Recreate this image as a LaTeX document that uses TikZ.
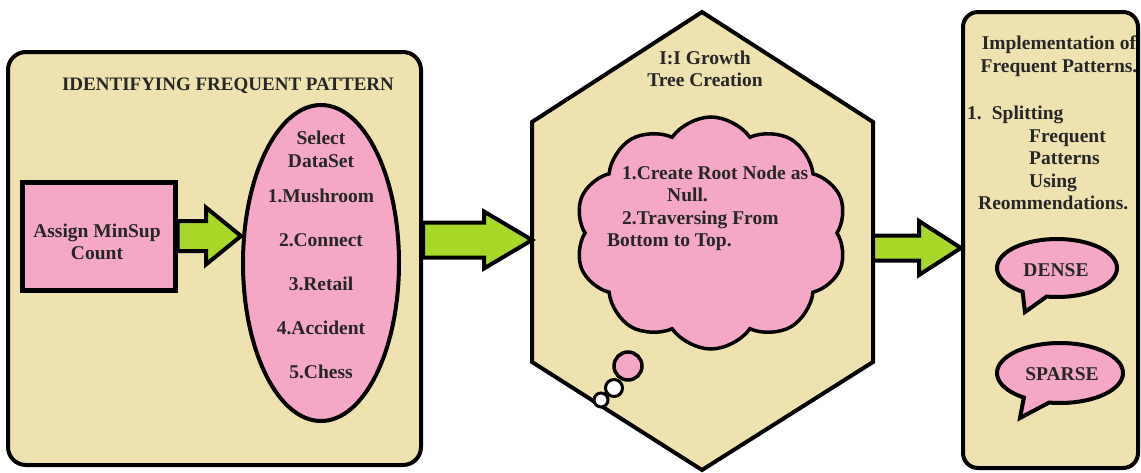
\documentclass[tikz,border=0pt]{standalone}
\usepackage{fontspec}
\setmainfont{Liberation Serif}
\usetikzlibrary{shapes.geometric,shapes.symbols,calc}
\definecolor{tanf}{RGB}{238,226,176}
\definecolor{pinkf}{RGB}{245,168,198}
\definecolor{limef}{RGB}{168,216,40}
\begin{document}
\begin{tikzpicture}[x=1pt,y=-1pt,
  txt/.style={font=\bfseries\fontsize{19.5}{22.5}\selectfont, text=black!85, inner sep=0pt},
  panel/.style={draw, line width=4pt, fill=tanf, rounded corners=18pt},
  blockarrow/.style n args={3}{draw, line width=4pt, fill=limef, line join=miter,
    to path={let \p1=(\tikztostart), \p2=(\tikztotarget) in
      (\x1,\y1+#1pt) -- (\x2-#3pt,\y1+#1pt) -- (\x2-#3pt,\y1+#2pt) -- (\x2,\y1)
      -- (\x2-#3pt,\y1-#2pt) -- (\x2-#3pt,\y1-#1pt) -- (\x1,\y1-#1pt) -- cycle}},
]
\useasboundingbox (0,0) rectangle (1141,472);
% ---------- left panel
\node[panel, minimum width=413pt, minimum height=413pt] (left) at (214.5,258.5) {};
\node[txt, font=\bfseries\fontsize{19}{22}\selectfont] (ttl) at (228,86) {IDENTIFYING FREQUENT PATTERN};
\node[draw, line width=5pt, fill=pinkf, minimum width=153pt, minimum height=108pt] (assign) at (98.5,236) {};
\node[txt, align=center] (assigntxt) at (97,242) {Assign MinSup\\Count};
\node[draw, ellipse, line width=4pt, fill=pinkf, minimum width=156pt, minimum height=316pt, inner sep=0pt] (sel) at (321,263) {};
\node[txt, align=center] (seltxt) at (321,255) {Select\\DataSet\\[12.5pt]1.Mushroom\\[21.5pt]2.Connect\\[21.5pt]3.Retail\\[21.5pt]4.Accident\\[21.5pt]5.Chess};
% ---------- hexagon
\coordinate (hT) at (702,12);
\coordinate (hUR) at (873,122);
\coordinate (hLR) at (873,362);
\coordinate (hB) at (702,470);
\coordinate (hLL) at (532,362);
\coordinate (hUL) at (532,122);
\coordinate (hW) at (532,240);
\coordinate (hE) at (873,248);
\draw[line width=4pt, fill=tanf, line join=miter] (hT) -- (hUR) -- (hLR) -- (hB) -- (hLL) -- (hUL) -- cycle;
\node[txt, align=center] (hexttl) at (705,69) {I:I Growth\\Tree Creation};
\node[cloud, cloud ignores aspect, draw, line width=3.5pt, fill=pinkf, cloud puffs=10, cloud puff arc=110, minimum width=272pt, minimum height=232pt, inner sep=0pt] (cloud) at (711,233) {};
\node[circle, draw, line width=3.5pt, fill=pinkf, minimum size=28pt, inner sep=0pt] (t1) at (628,366) {};
\node[circle, draw, line width=3pt, fill=white, minimum size=17pt, inner sep=0pt] (t2) at (614,388) {};
\node[circle, draw, line width=3pt, fill=white, minimum size=14pt, inner sep=0pt] (t3) at (601,400) {};
\node[txt, align=left, anchor=west] (cloudtxt) at (607,208.5) {\hspace*{15pt}1.Create Root Node as\\\hspace*{60pt}Null.\\\hspace*{15pt}2.Traversing From\\Bottom to Top.};
% ---------- right panel
\node[panel, minimum width=175pt, minimum height=456pt, rounded corners=15pt] (right) at (1050.5,240) {};
\node[txt, align=center] (impl) at (1059,56) {Implementation of\\Frequent Patterns.};
\node[txt, align=left, anchor=west] (split) at (967,158) {1.\hspace{10pt}Splitting\\\hspace*{62pt}Frequent\\\hspace*{62pt}Patterns\\\hspace*{62pt}Using\\\hspace*{11pt}Reommendations.};
\draw[line width=4pt, fill=pinkf] (1057,268) ++(125:60 and 29) arc[start angle=125, end angle=460, x radius=60, y radius=29] -- (1025,312) -- cycle;
\node[txt] (dense) at (1056,270) {DENSE};
\draw[line width=4pt, fill=pinkf] (1060,373) ++(125:63 and 30) arc[start angle=125, end angle=460, x radius=63, y radius=30] -- (1020,418) -- cycle;
\node[txt] (sparse) at (1062,374) {SPARSE};
% ---------- block arrows
\draw[blockarrow={15}{28.5}{35}] (assign.east) to (sel.west);
\draw[blockarrow={17.5}{28.5}{48}] ([yshift=18.5pt]left.east) to (hW);
\draw[blockarrow={12.5}{27}{42}] (hE) to (right.west);
\end{tikzpicture}
\end{document}
